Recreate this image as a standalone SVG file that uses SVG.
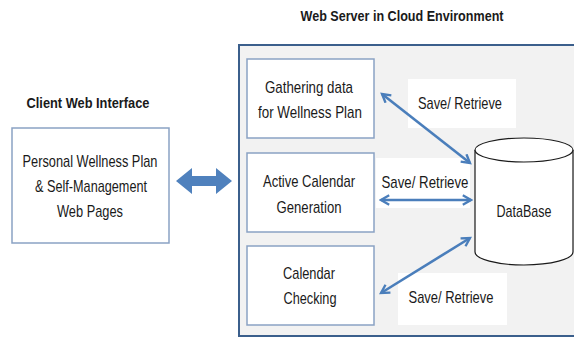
<svg xmlns="http://www.w3.org/2000/svg" width="574" height="337" viewBox="0 0 574 337">
<style>
text{font-family:"Liberation Sans",Arial,sans-serif;fill:#1a1a1a;text-anchor:middle;dominant-baseline:central}
.t{font-size:17px}
.h{font-size:15px;font-weight:bold}
.box{fill:#fff;stroke:#8aa2c4;stroke-width:1.5}
.lbl{fill:#fff;stroke:none}
.con{stroke:#4a7ebb;stroke-width:2.6;fill:none;marker-start:url(#ah);marker-end:url(#ah)}
</style>
<defs>
<marker id="ah" viewBox="0 0 10 10" refX="8" refY="5" markerWidth="4.5" markerHeight="4.5" orient="auto-start-reverse" markerUnits="strokeWidth">
<path d="M1,1 L8,5 L1,9" fill="none" stroke="#4a7ebb" stroke-width="2"/>
</marker>
</defs>
<rect width="574" height="337" fill="#fff"/>
<text class="h" x="402" y="15" textLength="203" lengthAdjust="spacingAndGlyphs">Web Server in Cloud Environment</text>
<text class="h" x="88" y="102" textLength="123" lengthAdjust="spacingAndGlyphs">Client Web Interface</text>
<g id="server">
<rect x="239" y="45" width="340" height="291" fill="#f2f2f2" stroke="#3b5f8c" stroke-width="2"/>
</g>
<g id="client">
<rect class="box" x="12" y="128" width="157" height="115"/>
<text class="t" x="90" y="161" textLength="135" lengthAdjust="spacingAndGlyphs">Personal Wellness Plan</text>
<text class="t" x="91" y="186" textLength="112" lengthAdjust="spacingAndGlyphs">&amp; Self-Management</text>
<text class="t" x="90" y="211" textLength="66" lengthAdjust="spacingAndGlyphs">Web Pages</text>
</g>
<g id="gathering">
<rect class="box" x="247" y="59" width="127" height="79"/>
<text class="t" x="309" y="87" textLength="88" lengthAdjust="spacingAndGlyphs">Gathering data</text>
<text class="t" x="310" y="112" textLength="104" lengthAdjust="spacingAndGlyphs">for Wellness Plan</text>
</g>
<g id="active">
<rect class="box" x="247" y="153" width="127" height="79"/>
<text class="t" x="309" y="181" textLength="92" lengthAdjust="spacingAndGlyphs">Active Calendar</text>
<text class="t" x="309" y="207" textLength="65" lengthAdjust="spacingAndGlyphs">Generation</text>
</g>
<g id="checking">
<rect class="box" x="247" y="246" width="127" height="79"/>
<text class="t" x="309" y="273" textLength="52" lengthAdjust="spacingAndGlyphs">Calendar</text>
<text class="t" x="310" y="298" textLength="53" lengthAdjust="spacingAndGlyphs">Checking</text>
</g>
<g id="database">
<path d="M475,150 L475,252 A49,13 0 0 0 573,252 L573,150" fill="#fff" stroke="#1a1a1a" stroke-width="1.2"/>
<ellipse cx="524" cy="150" rx="49" ry="12" fill="#fff" stroke="#1a1a1a" stroke-width="1.2"/>
<text class="t" x="524" y="211" textLength="55" lengthAdjust="spacingAndGlyphs">DataBase</text>
</g>
<g id="connectors">
<path d="M176,181 L192,168 L192,176 L216,176 L216,168 L232,181 L216,194 L216,186 L192,186 L192,194 Z" fill="#4f81bd"/>
<rect class="lbl" x="408" y="79" width="108" height="49"/>
<text class="t" x="460" y="103" textLength="84" lengthAdjust="spacingAndGlyphs">Save/ Retrieve</text>
<rect class="lbl" x="376" y="158" width="94" height="50"/>
<text class="t" x="425" y="182" textLength="87" lengthAdjust="spacingAndGlyphs">Save/ Retrieve</text>
<rect class="lbl" x="398" y="273" width="109" height="52"/>
<text class="t" x="451" y="297" textLength="85" lengthAdjust="spacingAndGlyphs">Save/ Retrieve</text>
<line class="con" x1="382" y1="94" x2="470" y2="163"/>
<line class="con" x1="381" y1="200" x2="471" y2="200"/>
<line class="con" x1="381" y1="293" x2="470" y2="238"/>
</g>
</svg>
